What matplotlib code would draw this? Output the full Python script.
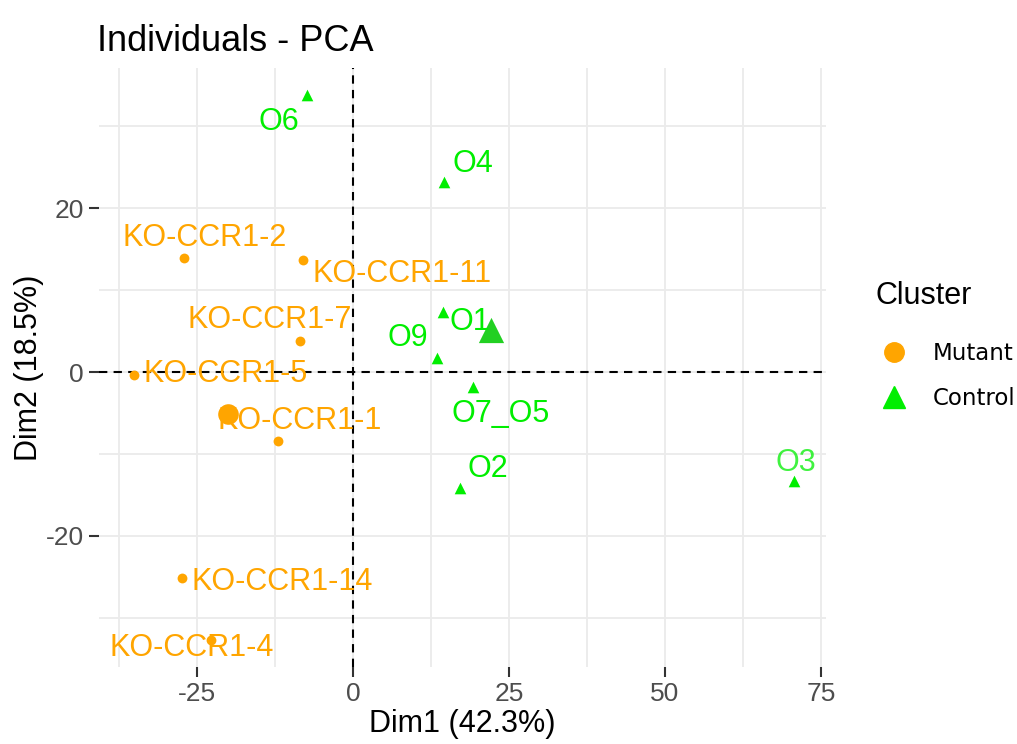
import matplotlib
matplotlib.use("Agg")
import matplotlib.pyplot as plt
from matplotlib.lines import Line2D

plt.rcParams['font.family'] = ['Liberation Sans', 'DejaVu Sans']
plt.rcParams['axes.unicode_minus'] = False

# PCA coordinates of the individuals (Dim1, Dim2)
mutant_names = ['KO-CCR1-2', 'KO-CCR1-11', 'KO-CCR1-7', 'KO-CCR1-5',
                'KO-CCR1-1', 'KO-CCR1-14', 'KO-CCR1-4']
mutant_x = [-27.1, -8.0, -8.5, -35.1, -12.0, -27.4, -22.8]
mutant_y = [13.9, 13.7, 3.8, -0.4, -8.4, -25.1, -32.7]

control_names = ['O6', 'O4', 'O1', 'O9', 'O7_O5', 'O2', 'O3']
control_x = [-7.4, 14.6, 14.4, 13.5, 19.2, 17.1, 70.7]
control_y = [33.8, 23.2, 7.3, 1.7, -1.8, -14.1, -13.3]

# group centres
mutant_centre = (-20.0, -5.1)
control_centre = (22.1, 5.1)

x_ticks = [-25, 0, 25, 50, 75]
y_ticks = [-20, 0, 20]

# label offsets (pixels) so the names don't sit on the points
mutant_offsets = [(21, 20), (99, -14), (-30, 21), (92, 1), (22, 20), (100, -4), (-19, -8)]
control_offsets = [(-28, -27), (29, 18), (27, -10), (-29, 20), (28, -27), (28, 19), (2, 18)]

orange = '#FFA500'
green = '#00EE00'

fig = plt.figure(figsize=(10.17, 7.44), dpi=100)
ax = fig.add_axes([0.0973, 0.1035, 0.7149, 0.8051])

ax.set_xlim(-40.7, 75.8)
ax.set_ylim(-36.0, 37.1)

ax.set_xticks(x_ticks)
ax.set_yticks(y_ticks)
ax.set_xticks([-37.5, -12.5, 12.5, 37.5, 62.5], minor=True)
ax.set_yticks([-30, -10, 10, 30], minor=True)
ax.grid(True, which='both', color='#EBEBEB', linewidth=1.3, zorder=0)
ax.set_axisbelow(True)
for s in ax.spines.values():
    s.set_visible(False)
ax.tick_params(which='major', length=7, width=1.5, color='#333333',
               labelsize=19, labelcolor='#4D4D4D', pad=4)
ax.tick_params(which='minor', length=0)

ax.axhline(0, color='black', linestyle=(0, (4, 3)), linewidth=1.5, zorder=1)
ax.axvline(0, color='black', linestyle=(0, (4, 3)), linewidth=1.5, zorder=1)

ax.scatter(mutant_x, mutant_y, s=50, color=orange, marker='o', zorder=3, linewidths=0)
ax.scatter(control_x, control_y, s=70, color=green, marker='^', zorder=3, linewidths=0)
ax.scatter([mutant_centre[0]], [mutant_centre[1]], s=220, color=orange, marker='o',
           zorder=3, linewidths=0)
ax.scatter([control_centre[0]], [control_centre[1]], s=330, color='#22D022', marker='^',
           zorder=3, linewidths=0)

for name, x, y, off in zip(mutant_names, mutant_x, mutant_y, mutant_offsets):
    ax.annotate(name, (x, y), xytext=off, textcoords='offset pixels',
                ha='center', va='center', fontsize=22, color=orange, zorder=4)
for name, x, y, off in zip(control_names, control_x, control_y, control_offsets):
    ax.annotate(name, (x, y), xytext=off, textcoords='offset pixels',
                ha='center', va='center', fontsize=22, color=green, zorder=4,
                alpha=0.75 if name == 'O3' else 1.0)

ax.set_title('Individuals - PCA', loc='left', fontsize=26, color='black', pad=12,
             x=-0.002)
ax.set_xlabel('Dim1 (42.3%)', fontsize=22, labelpad=2)
ax.set_ylabel('Dim2 (18.5%)', fontsize=22, labelpad=1)

handles = [
    Line2D([], [], marker='o', linestyle='none', color=orange, markersize=14, label='Mutant'),
    Line2D([], [], marker='^', linestyle='none', color=green, markersize=16, label='Control'),
]
leg = fig.legend(handles=handles, title='Cluster', loc='upper left',
                 bbox_to_anchor=(0.852, 0.634), frameon=False,
                 prop={'family': 'DejaVu Sans', 'size': 16.5},
                 title_fontproperties={'family': 'Liberation Sans', 'size': 22},
                 handletextpad=0.9, labelspacing=0.95, borderaxespad=0,
                 handlelength=1.6)
leg._legend_box.align = 'left'
leg._legend_box.sep = 22

fig.savefig('out.png', dpi=100)
